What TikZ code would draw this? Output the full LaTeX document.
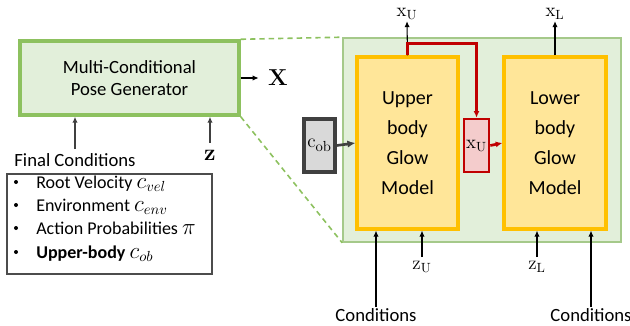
\documentclass[tikz,border=0pt]{standalone}
\usepackage[no-math]{fontspec}
\setmainfont{Carlito}
\usetikzlibrary{arrows.meta}
\definecolor{verdeclaro}{HTML}{E2EFDA}
\definecolor{verdeforte}{HTML}{8DC15F}
\definecolor{verdemedio}{HTML}{A5C98A}
\definecolor{amarelo}{HTML}{FFE699}
\definecolor{laranja}{HTML}{FFC000}
\definecolor{cinza}{HTML}{D9D9D9}
\definecolor{cinzaesc}{HTML}{404040}
\definecolor{rosa}{HTML}{F4CCCC}
\definecolor{vermelho}{HTML}{C00000}
\newcommand{\mat}[1]{{\fontsize{16}{16}\selectfont$#1$}}
\tikzset{
  tam/.style 2 args={minimum width=#1*0.75pt, minimum height=#2*0.75pt},
  gerador/.style={draw=verdeforte, fill=verdeclaro, line width=2.6pt, align=center, font=\fontsize{14}{17}\selectfont, inner sep=0pt},
  grande/.style={draw=verdemedio, fill=verdeclaro, line width=1.2pt, inner sep=0pt},
  glow/.style={draw=laranja, fill=amarelo, line width=2.4pt, align=center, font=\fontsize{15}{22.5}\selectfont, inner sep=0pt},
  cond/.style={draw=cinzaesc, fill=cinza, line width=2.4pt, inner sep=0pt, font=\fontsize{15}{17}\selectfont},
  saida/.style={draw=vermelho, fill=rosa, line width=2pt, inner sep=0pt, font=\fontsize{14}{16}\selectfont},
  lista/.style={draw=black!70, line width=0.8pt, inner sep=0pt},
  bala/.style={circle, fill=black, inner sep=0pt, minimum size=3pt},
  texto/.style={font=\fontsize{14}{17}\selectfont, inner sep=1pt},
  linha/.style={anchor=base west, font=\fontsize{13.5}{16}\selectfont, inner sep=0pt},
  rotulo/.style={font=\fontsize{14}{16}\selectfont, inner sep=1pt},
  grosso/.style={font=\fontsize{17}{19}\selectfont, inner sep=1pt},
  seta/.style={-{Latex[length=4.5pt,width=4pt]}, line width=0.8pt},
  ligacao/.style={verdeforte, line width=1.2pt, dash pattern=on 4pt off 3pt},
  vermelha/.style={vermelho, line width=2pt, -{Latex[length=5pt,width=4.5pt]}},
}
\begin{document}
\begin{tikzpicture}[x=0.75pt, y=-0.75pt]
  \useasboundingbox (0,0) rectangle (630,325);

  % ---------------- gerador e condições finais ----------------
  \node[grande, tam={278}{204}] (bloco) at (482,140) {};
  \node[gerador, tam={219}{74}] (gen) at (129.5,78) {Multi-Conditional\\Pose Generator};
  \draw[ligacao] (gen.north east) -- (bloco.north west);
  \draw[ligacao] (gen.south east) -- (bloco.south west);
  \node[grosso] (X) at (278,78) {$\mathbf{X}$};
  \draw[seta, shorten >=6pt] (gen.east) -- (X.west);
  \node[texto] (final) at (75,160) {Final Conditions};
  \node[grosso] (z) at (210,155) {$\mathbf{z}$};
  \draw[seta, black!75, shorten <=2pt] (final.north) -- (final.north |- gen.south);
  \draw[seta, black!75, shorten <=4pt] (z.north) -- (z.north |- gen.south);
  \node[lista, tam={205}{100}] (lista) at (109.5,224) {};
  \foreach \txt/\yy [count=\i] in {Root Velocity \mat{c_{vel}}/188, Environment \mat{c_{env}}/211,
      Action Probabilities \mat{\pi}/234, \textbf{Upper-body} \mat{c_{ob}}/258} {
    \node[bala] (bala\i) at (16,\yy-6) {};
    \node[linha] (item\i) at (36,\yy) {\txt};
  }

  % ---------------- glow superior e inferior ----------------
  \node[glow, tam={101}{172}] (upper) at (407.5,143) {Upper\\body\\Glow\\Model};
  \node[glow, tam={102}{172}] (lower) at (555,143) {Lower\\body\\Glow\\Model};
  \node[cond, tam={31}{53}] (cob) at (319.5,145.5) {$\mathrm{c}_{\mathrm{ob}}$};
  \node[saida, tam={25}{53}] (xu) at (476.5,145.5) {$\mathrm{x}_{\mathrm{U}}$};
  \draw[-{Latex[length=6pt,width=5.5pt]}, cinzaesc, line width=2pt] (cob.east) -- (upper.west);
  \draw[vermelha] (xu.east) -- (lower.west);
  \node[rotulo] (xuo) at (407,14) {$\mathrm{x}_{\mathrm{U}}$};
  \node[rotulo] (xlo) at (555,14) {$\mathrm{x}_{\mathrm{L}}$};
  \draw[seta] (upper.north) -- (xuo.south);
  \draw[seta] (lower.north) -- (xlo.south);
  % saída superior realimenta o modelo inferior
  \draw[vermelha] (upper.north) -- ++(0,-12) -| (xu.north);

  % ---------------- condições de baixo ----------------
  \node[texto] (c1) at (376,315) {Conditions};
  \node[texto] (c2) at (591,315) {Conditions};
  \node[rotulo] (zu) at (422,267) {$\mathrm{z}_{\mathrm{U}}$};
  \node[rotulo] (zl) at (537,267) {$\mathrm{z}_{\mathrm{L}}$};
  \draw[seta] (c1.north) -- (c1.north |- upper.south);
  \draw[seta] (c2.north) -- (c2.north |- lower.south);
  \draw[seta, shorten <=2pt] (zu.north) -- (zu.north |- upper.south);
  \draw[seta, shorten <=2pt] (zl.north) -- (zl.north |- lower.south);
\end{tikzpicture}
\end{document}
